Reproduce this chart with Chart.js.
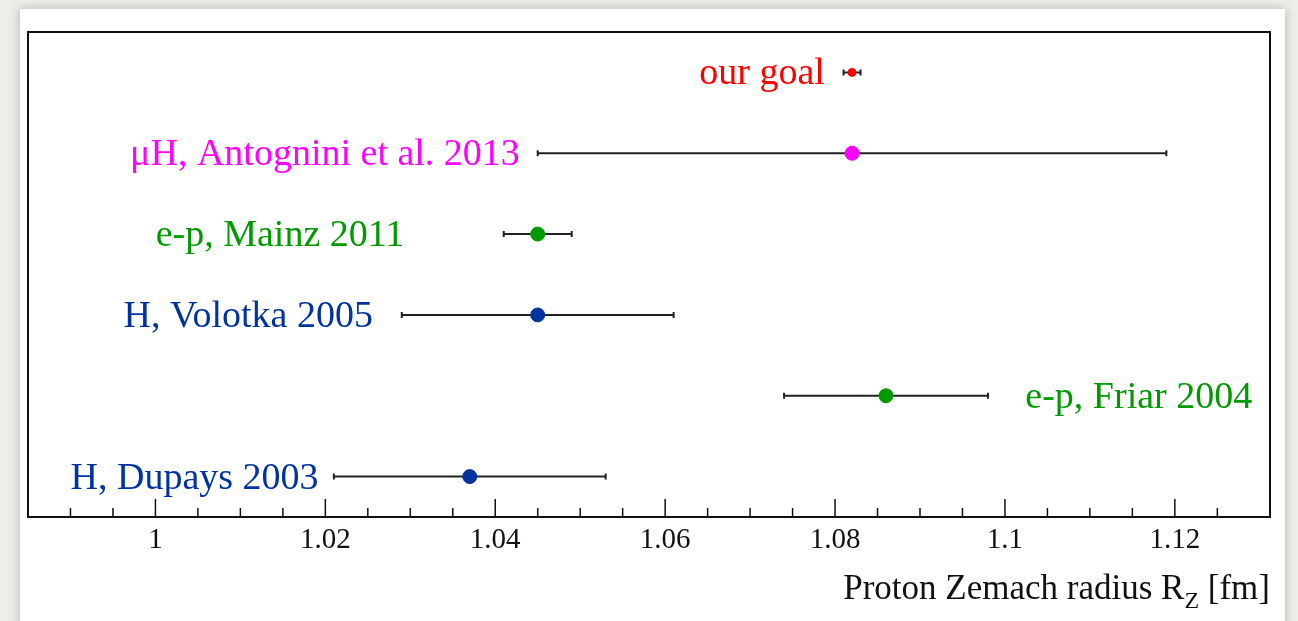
<!DOCTYPE html>
<html>
<head>
<meta charset="utf-8">
<title>Proton Zemach radius</title>
<script src="https://cdn.jsdelivr.net/npm/chart.js@4/dist/chart.umd.min.js"></script>
<style>
  html, body { margin: 0; padding: 0; }
  body { width: 1298px; height: 621px; background: #efede7; position: relative; overflow: hidden; }
  .panel {
    position: absolute; left: 20px; top: 9px; width: 1265px; height: 640px;
    background: #fff; box-shadow: 0 0 10px rgba(0,0,0,0.25);
  }
  #wrap { position: absolute; left: 0; top: 0; width: 1298px; height: 621px; }
</style>
</head>
<body>
<div class="panel"></div>
<div id="wrap"><canvas id="chart"></canvas></div>
<script>
// measurements, top to bottom
var labels = ['our goal', '\u03BCH, Antognini et al. 2013', 'e-p, Mainz 2011', 'H, Volotka 2005', 'e-p, Friar 2004', 'H, Dupays 2003'];
var radius = [1.082, 1.082, 1.045, 1.045, 1.086, 1.037];
var errors = [0.001, 0.037, 0.004, 0.016, 0.012, 0.016];
var rows = [5.5, 4.5, 3.5, 2.5, 1.5, 0.5];
var colors = ['#ff0000', '#ff00ff', '#009a00', '#0033a0', '#009a00', '#0033a0'];
var pointSizes = [4, 7, 7, 7, 7, 7];
// where each label text ends (data units) and which side it sits
var labelAt = [1.0788, 1.0429, 1.0293, 1.0256, 1.1024, 1.0192];
var labelAlign = ['right', 'right', 'right', 'right', 'left', 'right'];

var X_MIN = 0.985, X_MAX = 1.1312;
var SERIF = '"Liberation Serif", "DejaVu Serif", serif';

var points = radius.map(function (r, i) { return { x: r, y: rows[i] }; });

var errorBars = {
  id: 'errorBars',
  beforeDatasetsDraw: function (chart) {
    var ctx = chart.ctx, xs = chart.scales.x, ys = chart.scales.y;
    ctx.save();
    ctx.strokeStyle = '#222';
    ctx.lineWidth = 2;
    radius.forEach(function (r, i) {
      var x0 = xs.getPixelForValue(r - errors[i]);
      var x1 = xs.getPixelForValue(r + errors[i]);
      var y = ys.getPixelForValue(rows[i]);
      ctx.beginPath();
      ctx.moveTo(x0, y); ctx.lineTo(x1, y);
      ctx.moveTo(x0, y - 3); ctx.lineTo(x0, y + 3);
      ctx.moveTo(x1, y - 3); ctx.lineTo(x1, y + 3);
      ctx.stroke();
    });
    ctx.restore();
  },
  afterDraw: function (chart) {
    var ctx = chart.ctx, xs = chart.scales.x, ys = chart.scales.y, a = chart.chartArea;
    ctx.save();
    // labels
    ctx.font = '38px ' + SERIF;
    ctx.textBaseline = 'middle';
    labels.forEach(function (t, i) {
      ctx.fillStyle = colors[i];
      ctx.textAlign = labelAlign[i];
      ctx.fillText(t, xs.getPixelForValue(labelAt[i]), ys.getPixelForValue(rows[i]) + 2);
    });
    // frame
    ctx.strokeStyle = '#111';
    ctx.lineWidth = 2;
    ctx.strokeRect(a.left, a.top, a.right - a.left, a.bottom - a.top);
    // inward ticks
    ctx.lineWidth = 1.5;
    xs.ticks.forEach(function (tk) {
      var px = xs.getPixelForValue(tk.value);
      if (px < a.left + 2 || px > a.right - 2) return;
      var major = Math.round(tk.value * 1000) % 20 === 0;
      ctx.beginPath();
      ctx.moveTo(px, a.bottom);
      ctx.lineTo(px, a.bottom - (major ? 18 : 9));
      ctx.stroke();
    });
    // axis title with subscript Z, right aligned to the frame
    var big = '35px ' + SERIF, small = '24px ' + SERIF;
    var parts = [['Proton Zemach radius R', big, 0], ['Z', small, 9], [' [fm]', big, 0]];
    var w = 0;
    parts.forEach(function (p) { ctx.font = p[1]; w += ctx.measureText(p[0]).width; });
    var x = a.right - w, y = 588;
    ctx.fillStyle = '#111';
    ctx.textAlign = 'left';
    ctx.textBaseline = 'alphabetic';
    parts.forEach(function (p) {
      ctx.font = p[1];
      ctx.fillText(p[0], x, y + 11 + p[2]);
      x += ctx.measureText(p[0]).width;
    });
    ctx.restore();
  }
};

new Chart(document.getElementById('chart'), {
  type: 'scatter',
  data: {
    datasets: [{
      data: points,
      pointBackgroundColor: colors,
      pointBorderColor: colors,
      pointRadius: pointSizes,
      pointHoverRadius: pointSizes
    }]
  },
  options: {
    responsive: true,
    maintainAspectRatio: false,
    animation: false,
    layout: { padding: { left: 28, top: 32, right: 28, bottom: 0 } },
    plugins: { legend: { display: false }, tooltip: { enabled: false } },
    scales: {
      x: {
        type: 'linear',
        min: X_MIN,
        max: X_MAX,
        grid: { display: false, drawTicks: false },
        border: { display: false },
        afterFit: function (scale) { scale.height = 104; },
        ticks: {
          stepSize: 0.005,
          autoSkip: false,
          maxRotation: 0,
          padding: 6,
          color: '#111',
          font: { family: SERIF, size: 29 },
          callback: function (v) {
            var m = Math.round(v * 1000);
            if (m % 20 !== 0) return '';
            return String(m / 1000);
          }
        },
        title: { display: false }
      },
      y: {
        display: false,
        min: 0,
        max: 6
      }
    }
  },
  plugins: [errorBars]
});
</script>
</body>
</html>
